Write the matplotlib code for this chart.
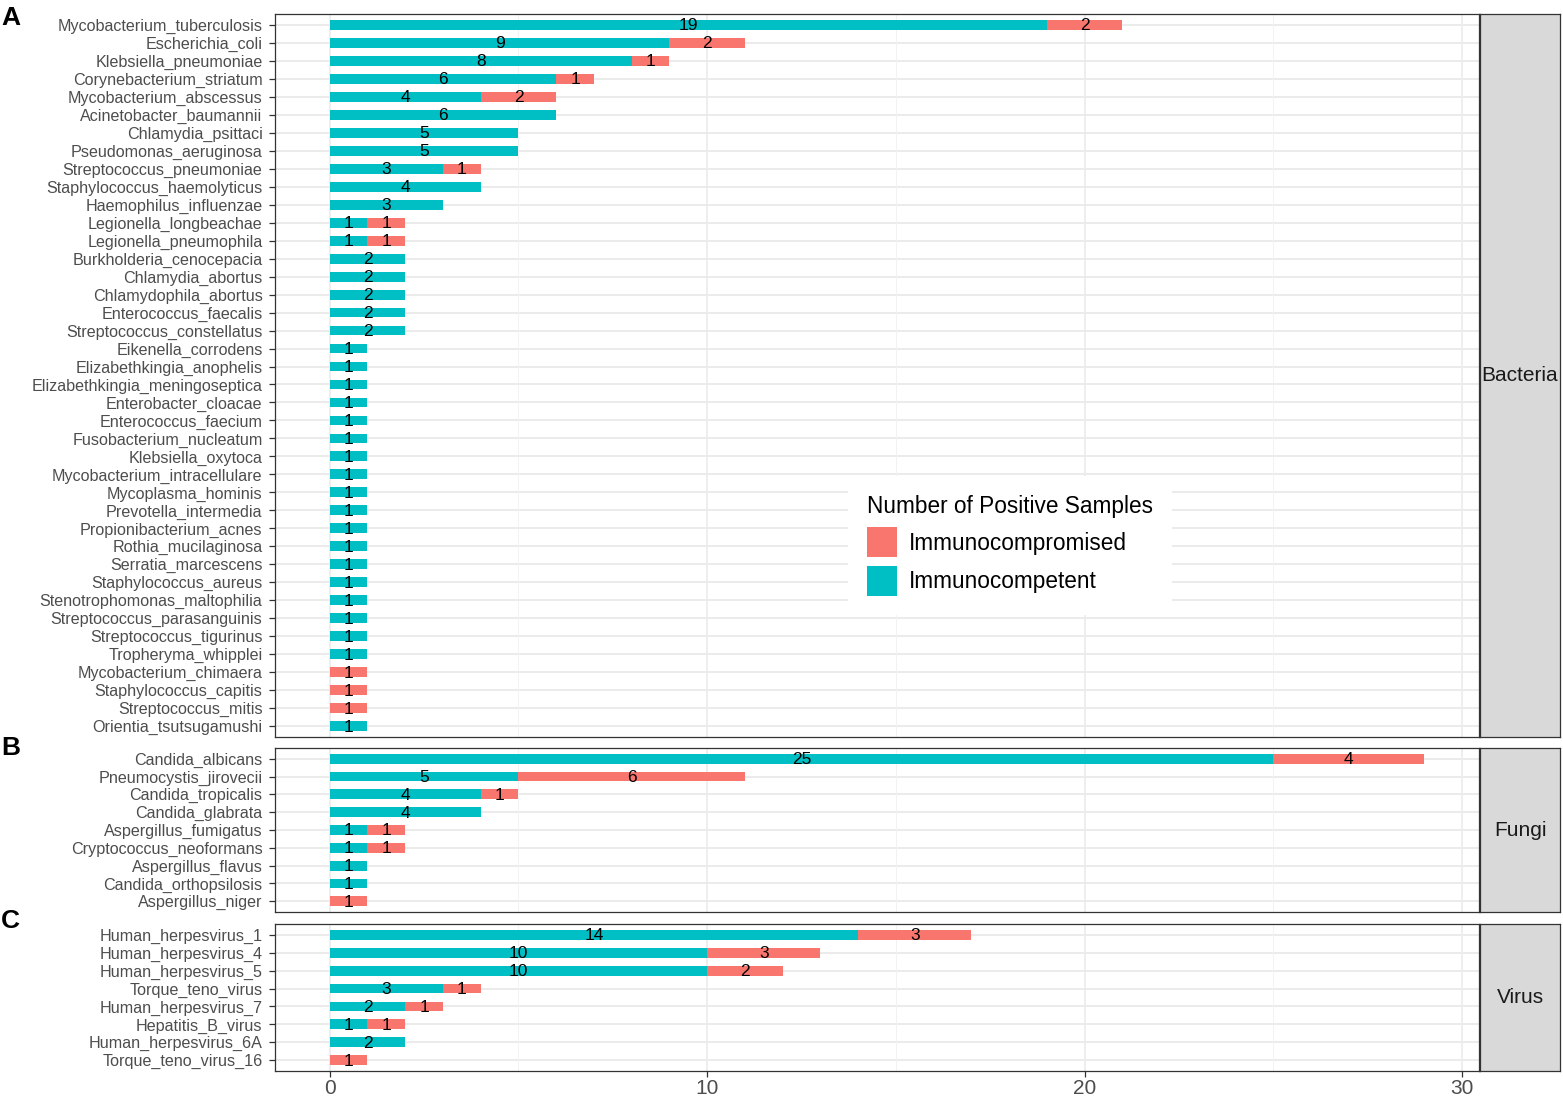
import numpy as np
import matplotlib
matplotlib.use('Agg')
import matplotlib.pyplot as plt
from matplotlib.patches import Patch

plt.rcParams['font.family'] = ['Liberation Sans', 'DejaVu Sans']

# ---- data (top to bottom in each panel) ----
bacteria = ['Mycobacterium_tuberculosis', 'Escherichia_coli', 'Klebsiella_pneumoniae',
            'Corynebacterium_striatum', 'Mycobacterium_abscessus', 'Acinetobacter_baumannii',
            'Chlamydia_psittaci', 'Pseudomonas_aeruginosa', 'Streptococcus_pneumoniae',
            'Staphylococcus_haemolyticus', 'Haemophilus_influenzae', 'Legionella_longbeachae',
            'Legionella_pneumophila', 'Burkholderia_cenocepacia', 'Chlamydia_abortus',
            'Chlamydophila_abortus', 'Enterococcus_faecalis', 'Streptococcus_constellatus',
            'Eikenella_corrodens', 'Elizabethkingia_anophelis', 'Elizabethkingia_meningoseptica',
            'Enterobacter_cloacae', 'Enterococcus_faecium', 'Fusobacterium_nucleatum',
            'Klebsiella_oxytoca', 'Mycobacterium_intracellulare', 'Mycoplasma_hominis',
            'Prevotella_intermedia', 'Propionibacterium_acnes', 'Rothia_mucilaginosa',
            'Serratia_marcescens', 'Staphylococcus_aureus', 'Stenotrophomonas_maltophilia',
            'Streptococcus_parasanguinis', 'Streptococcus_tigurinus', 'Tropheryma_whipplei',
            'Mycobacterium_chimaera', 'Staphylococcus_capitis', 'Streptococcus_mitis',
            'Orientia_tsutsugamushi']
bacteria_competent = [19, 9, 8, 6, 4, 6, 5, 5, 3, 4, 3, 1, 1, 2, 2, 2, 2, 2,
                      1, 1, 1, 1, 1, 1, 1, 1, 1, 1, 1, 1, 1, 1, 1, 1, 1, 1,
                      0, 0, 0, 1]
bacteria_compromised = [2, 2, 1, 1, 2, 0, 0, 0, 1, 0, 0, 1, 1, 0, 0, 0, 0, 0,
                        0, 0, 0, 0, 0, 0, 0, 0, 0, 0, 0, 0, 0, 0, 0, 0, 0, 0,
                        1, 1, 1, 0]

fungi = ['Candida_albicans', 'Pneumocystis_jirovecii', 'Candida_tropicalis',
         'Candida_glabrata', 'Aspergillus_fumigatus', 'Cryptococcus_neoformans',
         'Aspergillus_flavus', 'Candida_orthopsilosis', 'Aspergillus_niger']
fungi_competent = [25, 5, 4, 4, 1, 1, 1, 1, 0]
fungi_compromised = [4, 6, 1, 0, 1, 1, 0, 0, 1]

virus = ['Human_herpesvirus_1', 'Human_herpesvirus_4', 'Human_herpesvirus_5',
         'Torque_teno_virus', 'Human_herpesvirus_7', 'Hepatitis_B_virus',
         'Human_herpesvirus_6A', 'Torque_teno_virus_16']
virus_competent = [14, 10, 10, 3, 2, 1, 2, 0]
virus_compromised = [3, 3, 2, 1, 1, 1, 0, 1]

groups = ['Bacteria', 'Fungi', 'Virus']
panel_letters = ['A', 'B', 'C']
x_ticks = [0, 10, 20, 30]
x_minor = [5, 15, 25]

teal = '#00BFC4'
red = '#F8766D'

W, H = 1563, 1099
fig = plt.figure(figsize=(W / 100, H / 100), dpi=100)


def px_box(left, top, right, bottom):
    # pixel box -> figure fraction rect
    return [left / W, 1 - bottom / H, (right - left) / W, (bottom - top) / H]


panels = [(bacteria, bacteria_competent, bacteria_compromised),
          (fungi, fungi_competent, fungi_compromised),
          (virus, virus_competent, virus_compromised)]
panel_rows = [(14, 737), (748, 912), (924, 1071)]
letter_y = [18, 748, 921]

xmax = max(max(np.array(c) + np.array(m)) for _, c, m in panels)
xlim = (-0.05 * xmax, xmax * 1.05)

for k, (names, comp, compro) in enumerate(panels):
    top, bottom = panel_rows[k]
    ax = fig.add_axes(px_box(275, top, 1479, bottom))
    n = len(names)
    y = np.arange(n)
    comp = np.array(comp)
    compro = np.array(compro)

    ax.barh(y, comp, height=0.55, color=teal, zorder=2)
    ax.barh(y, compro, left=comp, height=0.55, color=red, zorder=2)

    # labels in the middle of each stacked piece
    for i in range(n):
        if comp[i] > 0:
            ax.text(comp[i] / 2, y[i] + 0.05, str(comp[i]), ha='center', va='center',
                    fontsize=12.5, color='black', zorder=3)
        if compro[i] > 0:
            ax.text(comp[i] + compro[i] / 2, y[i] + 0.05, str(compro[i]), ha='center',
                    va='center', fontsize=12.5, color='black', zorder=3)

    ax.set_xlim(xlim)
    ax.set_ylim(n - 0.4, -0.6)
    ax.set_yticks(y)
    ax.set_yticklabels(names)
    ax.set_xticks(x_ticks)
    ax.set_xticks(x_minor, minor=True)

    # ggplot theme_bw look
    ax.set_axisbelow(True)
    for yy in y:
        ax.axhline(yy, color='#EBEBEB', lw=1.4, zorder=0)
    for xx in x_ticks:
        ax.axvline(xx, color='#EBEBEB', lw=1.2, zorder=0)
    for xx in x_minor:
        ax.axvline(xx, color='#F2F2F2', lw=0.7, zorder=0)
    for s in ax.spines.values():
        s.set_color('#333333')
        s.set_linewidth(0.9)

    ax.tick_params(axis='y', labelsize=11.6, labelcolor='#4D4D4D', color='#333333',
                   length=4, width=0.9, pad=5)
    ax.tick_params(axis='x', which='minor', length=0)
    if k == len(panels) - 1:
        ax.tick_params(axis='x', labelsize=15, labelcolor='#4D4D4D', color='#333333',
                       length=4, width=0.9, pad=2)
    else:
        ax.tick_params(axis='x', length=0, labelbottom=False)

    # facet strip on the right
    sax = fig.add_axes(px_box(1480, top, 1560, bottom))
    sax.set_facecolor('#D9D9D9')
    sax.set_xticks([])
    sax.set_yticks([])
    for s in sax.spines.values():
        s.set_color('#333333')
        s.set_linewidth(0.9)
    sax.text(0.5, 0.5, groups[k], ha='center', va='center', fontsize=15,
             color='#1A1A1A', transform=sax.transAxes)

    fig.text(1 / W, 1 - letter_y[k] / H, panel_letters[k], fontsize=19,
             fontweight='bold', ha='left', va='center')

handles = [Patch(facecolor=red, edgecolor='none', label='Immunocompromised'),
           Patch(facecolor=teal, edgecolor='none', label='Immunocompetent')]
leg = fig.legend(handles=handles, title='Number of Positive Samples',
                 loc='upper left', bbox_to_anchor=(848 / W, 1 - 476 / H),
                 borderaxespad=0,
                 fontsize=16.3, title_fontsize=16.3, frameon=True,
                 facecolor='white', edgecolor='none', framealpha=1,
                 handlelength=1.33, handleheight=1.65, handletextpad=0.53,
                 labelspacing=0.4, borderpad=0.85, alignment='left')
leg.get_frame().set_boxstyle('square', pad=0)

fig.savefig('out.png', dpi=100)
